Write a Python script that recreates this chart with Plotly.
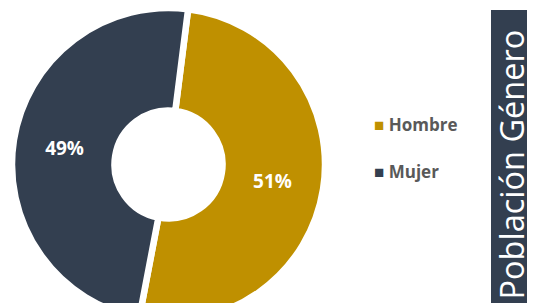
import plotly.graph_objects as go

labels = ["Hombre", "Mujer"]
values = [51, 49]
colors = ["#BF9000", "#333F50"]
title_text = "Población Género"

# the page body adds an 8px offset; figure coordinates below are page - 8
W, H = 527, 315

fig = go.Figure()
fig.add_trace(go.Pie(
    labels=labels, values=values, sort=False, direction="clockwise",
    rotation=7.2, hole=0.345,
    marker=dict(colors=colors, line=dict(color="white", width=6.5)),
    textinfo="percent", texttemplate="%{percent:.0%}", textposition="inside",
    insidetextorientation="horizontal",
    insidetextfont=dict(color="white", size=19, family="Open Sans", weight="bold"),
    domain=dict(x=[4 / W, 317 / W], y=[1 - 313 / H, 1.0]),
    showlegend=False, hoverinfo="label+percent",
))
for lab, col in zip(labels, colors):
    fig.add_trace(go.Scatter(
        x=[None], y=[None], mode="markers", legendgroup=lab,
        name=f"<span style='color:{col}'>■</span> {lab}",
        marker=dict(symbol="square", size=0, color="rgba(0,0,0,0)",
                    line=dict(width=0)),
    ))

fig.add_shape(type="rect", xref="paper", yref="paper",
              x0=483 / W, x1=1.0, y0=0.0, y1=1 - 2 / H,
              fillcolor="#333F50", line=dict(width=0), layer="below")
fig.add_annotation(x=527 / W, y=1 - 157 / H, xref="paper", yref="paper",
                   text=title_text, textangle=-90, showarrow=False,
                   font=dict(color="white", size=32.5, family="Open Sans"))

fig.update_layout(
    width=W, height=H, margin=dict(l=0, r=0, t=0, b=0),
    paper_bgcolor="white", plot_bgcolor="white",
    xaxis=dict(visible=False), yaxis=dict(visible=False),
    legend=dict(x=326 / W, y=1 - 140.5 / H, xanchor="left", yanchor="middle",
                traceorder="grouped", tracegroupgap=22, bgcolor="rgba(0,0,0,0)",
                font=dict(color="#595959", size=17, family="Open Sans", weight="bold"),
                itemwidth=30),
)
fig.write_html("out.html")
